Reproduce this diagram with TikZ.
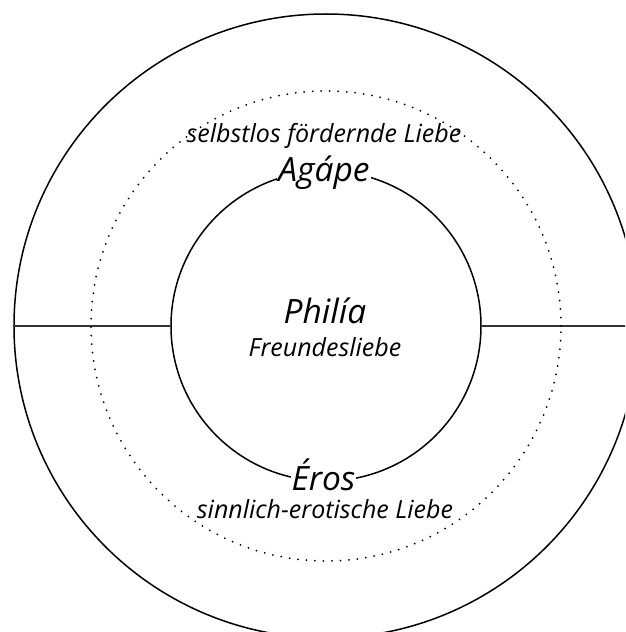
\documentclass[tikz,border=0pt]{standalone}
\usepackage{fontspec}
\setmainfont{Open Sans}
\begin{document}
\begin{tikzpicture}[x=1pt,y=1pt,
  ring/.style={draw,circle,inner sep=0pt,line width=1.5pt},
  big/.style={font=\fontsize{33.5}{38}\selectfont\itshape,anchor=base},
  small/.style={font=\fontsize{25}{29}\selectfont\itshape,anchor=base}]
\clip (-326,-306) rectangle (299,326);
\node [ring,minimum size=624pt] (outer) at (0,0) {};
\node [ring,minimum size=310pt] (inner) at (0,0) {};
\draw [line width=1.8pt,black!80] (outer.west)--(inner.west);
\draw [line width=1.8pt,black!80] (inner.east)--(outer.east);
\draw [line width=2pt,line cap=round,dash pattern=on 0pt off 8.5pt] (0,0) circle (235);
\node [small] (selbstlos) at (-2,183) {selbstlos fördernde Liebe};
\node [big,fill=white,inner sep=1pt] (agape) at (-2,144) {Agápe};
\node [big] (philia) at (-1,3) {Philía};
\node [small] (freundes) at (-1,-30) {Freundesliebe};
\node [big,fill=white,inner sep=1pt] (eros) at (-2.5,-164) {Éros};
\node [small] (sinnlich) at (-1,-192) {sinnlich-erotische Liebe};
\end{tikzpicture}
\end{document}
